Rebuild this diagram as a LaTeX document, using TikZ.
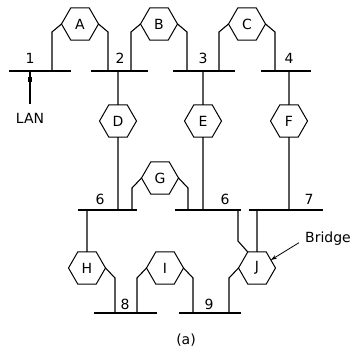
\documentclass[tikz,border=0pt]{standalone}
\usepackage{fontspec}
\setmainfont{DejaVu Sans}
\usetikzlibrary{shapes.geometric,arrows.meta}
\begin{document}
\begin{tikzpicture}[x=1pt,y=-1pt,
  hex/.style={regular polygon,regular polygon sides=6,draw,line width=1pt,minimum size=37pt,inner sep=0pt,outer sep=0pt,font=\fontsize{14}{14}\selectfont},
  bus/.style={line width=1.3pt},
  wire/.style={line width=1.1pt},
  lbl/.style={font=\fontsize{14}{14}\selectfont,inner sep=0pt}]
\useasboundingbox (0,0) rectangle (352,352);
% buses
\coordinate (b1l) at (9,71);   \coordinate (b1r) at (71,71);
\coordinate (b2l) at (91,71);  \coordinate (b2r) at (148,71);
\coordinate (b3l) at (173,71); \coordinate (b3r) at (235,71);
\coordinate (b4l) at (261,71); \coordinate (b4r) at (311,71);
\coordinate (b6l) at (78,210); \coordinate (b6r) at (137,210);
\coordinate (b6bl) at (175,210); \coordinate (b6br) at (241,210);
\coordinate (b7l) at (249,210); \coordinate (b7r) at (323,210);
\coordinate (b8l) at (94,313); \coordinate (b8r) at (157,313);
\coordinate (b9l) at (179,313); \coordinate (b9r) at (241,313);
\foreach \a/\b in {b1l/b1r,b2l/b2r,b3l/b3r,b4l/b4r,b6l/b6r,b6bl/b6br,b7l/b7r,b8l/b8r,b9l/b9r}
  \draw[bus] (\a) -- (\b);
% labels
\node[lbl] (n1) at (30,58) {1};
\node[lbl] (n2) at (120,58) {2};
\node[lbl] (n3) at (203,58) {3};
\node[lbl] (n4) at (289,58) {4};
\node[lbl] (n6a) at (100,199) {6};
\node[lbl] (n6b) at (225,199) {6};
\node[lbl] (n7) at (309,199) {7};
\node[lbl] (n8) at (125,304) {8};
\node[lbl] (n9) at (209,304) {9};
% hexagons
\node[hex] (A) at (80,24) {A};
\node[hex] (B) at (159,24) {B};
\node[hex] (C) at (247,24) {C};
\node[hex] (D) at (118,121) {D};
\node[hex] (E) at (203,121) {E};
\node[hex] (F) at (289,121) {F};
\node[hex] (G) at (160,178) {G};
\node[hex] (H) at (87,268) {H};
\node[hex] (I) at (165,268) {I};
\node[hex] (J) at (257,268) {J};
% LAN drop
\coordinate (lan1) at (30,71);
\node[lbl] (lan) at (30,118) {LAN};
\draw[wire] (lan1) -- (30,104);
\node[fill,minimum width=4pt,minimum height=5pt,inner sep=0pt] (tap) at (30,80) {};
% top bridges
\coordinate (fA1) at (52,71);  \coordinate (fA2) at (108,71);
\coordinate (fB1) at (131,71); \coordinate (fB2) at (187,71);
\coordinate (fC1) at (219,71); \coordinate (fC2) at (275,71);
\draw[wire] (A.west) -- ++(-9.5,8) -- (fA1);
\draw[wire] (A.east) -- ++(9.5,8) -- (fA2);
\draw[wire] (B.west) -- ++(-9.5,8) -- (fB1);
\draw[wire] (B.east) -- ++(9.5,8) -- (fB2);
\draw[wire] (C.west) -- ++(-9.5,8) -- (fC1);
\draw[wire] (C.east) -- ++(9.5,8) -- (fC2);
% vertical bridges
\coordinate (d1) at (118,71);  \coordinate (d2) at (118,210);
\coordinate (e1) at (203,71);  \coordinate (e2) at (203,210);
\coordinate (f1) at (289,71);  \coordinate (f2) at (289,210);
\draw[wire] (d1) -- (D.north) (D.south) -- (d2);
\draw[wire] (e1) -- (E.north) (E.south) -- (e2);
\draw[wire] (f1) -- (F.north) (F.south) -- (f2);
% G
\coordinate (fG1) at (132,210); \coordinate (fG2) at (188,210);
\draw[wire] (G.west) -- ++(-9.5,10) -- (fG1);
\draw[wire] (G.east) -- ++(9.5,10) -- (fG2);
% H
\coordinate (h1) at (87,210); \coordinate (fH) at (115,313);
\draw[wire] (h1) -- (H.north);
\draw[wire] (H.east) -- ++(9.5,10) -- (fH);
% I
\coordinate (fI1) at (137,313); \coordinate (fI2) at (193,313);
\draw[wire] (I.west) -- ++(-9.5,10) -- (fI1);
\draw[wire] (I.east) -- ++(9.5,10) -- (fI2);
% J
\coordinate (j7) at (257,210); \coordinate (j6) at (238,210); \coordinate (fJ9) at (229,313);
\draw[wire] (j7) -- (J.north);
\draw[wire] (j6) -- (238,241) -- (J.120);
\draw[wire] (J.west) -- ++(-9.5,10) -- (fJ9);
% Bridge label
\node[lbl,anchor=west] (bridge) at (305,239) {Bridge};
\draw[line width=0.8pt,-{Stealth[length=6pt,width=4pt]},shorten <=7pt] (bridge.west) -- (J.30);
% caption
\node[lbl] (cap) at (186,340) {(a)};
\end{tikzpicture}
\end{document}
